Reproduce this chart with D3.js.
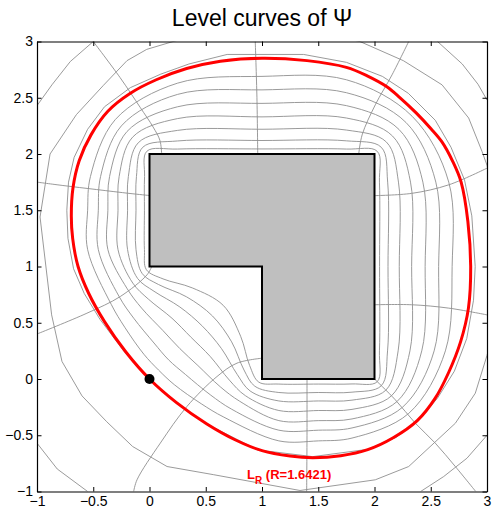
<!DOCTYPE html>
<html>
<head>
<meta charset="utf-8">
<script src="https://cdn.jsdelivr.net/npm/d3@7"></script>
<style>
  html, body { margin: 0; padding: 0; background: #fff; }
  svg { display: block; font-family: "Liberation Sans", Arial, Helvetica, sans-serif; }
</style>
</head>
<body>
<svg id="chart" width="494" height="509"></svg>
<script>
// Polygon (L-shaped domain)
const polygon = [[0,1],[0,2],[2,2],[2,0],[1,0],[1,1]];

// Axis ticks
const tickValues = [-1, -0.5, 0, 0.5, 1, 1.5, 2, 2.5, 3];
const tickLabels = ["\u22121", "\u22120.5", "0", "0.5", "1", "1.5", "2", "2.5", "3"];

// Level curves of |Psi| (closed, innermost first)
const level1 = [[-0.045,1.15],[-0.045,1.5],[-0.044,1.8],[-0.024,2.024],[0.25,2.044],[1.0,2.045],[1.75,2.044],[2.024,2.024],[2.044,1.75],[2.045,1.0],[2.044,0.25],[2.024,-0.024],[1.8,-0.044],[1.5,-0.045],[1.15,-0.045],[0.972,-0.028],[0.89,0.12],[0.81,0.38],[0.655,0.655],[0.38,0.81],[0.12,0.89],[-0.028,0.972]];
const level2 = [[-0.12,1.15],[-0.12,1.5],[-0.116,1.8],[-0.06,2.06],[0.25,2.116],[1.0,2.12],[1.75,2.117],[2.06,2.06],[2.117,1.75],[2.12,1.0],[2.116,0.25],[2.06,-0.06],[1.8,-0.117],[1.5,-0.12],[1.15,-0.12],[0.936,-0.064],[0.84,0.08],[0.73,0.33],[0.56,0.56],[0.33,0.73],[0.08,0.84],[-0.064,0.936]];
const level3 = [[-0.195,1.15],[-0.195,1.5],[-0.188,1.8],[-0.1,2.1],[0.25,2.21],[1.0,2.22],[1.75,2.213],[2.106,2.106],[2.213,1.75],[2.22,1.0],[2.21,0.25],[2.1,-0.1],[1.8,-0.188],[1.5,-0.195],[1.15,-0.195],[0.894,-0.106],[0.78,0.04],[0.64,0.27],[0.47,0.47],[0.27,0.64],[0.04,0.78],[-0.106,0.894]];
const level4 = [[-0.28,1.15],[-0.28,1.5],[-0.27,1.8],[-0.15,2.15],[0.25,2.315],[1.0,2.33],[1.75,2.32],[2.16,2.16],[2.32,1.75],[2.33,1.0],[2.315,0.25],[2.15,-0.15],[1.8,-0.27],[1.5,-0.28],[1.15,-0.28],[0.852,-0.148],[0.71,-0.01],[0.54,0.2],[0.37,0.37],[0.2,0.54],[-0.01,0.71],[-0.148,0.852]];
const level5 = [[-0.37,1.15],[-0.37,1.5],[-0.355,1.8],[-0.2,2.2],[0.25,2.42],[1.0,2.45],[1.75,2.43],[2.218,2.218],[2.43,1.75],[2.45,1.0],[2.42,0.25],[2.2,-0.2],[1.8,-0.355],[1.5,-0.37],[1.15,-0.37],[0.802,-0.198],[0.63,-0.07],[0.43,0.12],[0.27,0.27],[0.12,0.43],[-0.07,0.63],[-0.198,0.802]];
const level6 = [[-0.455,1.15],[-0.455,1.5],[-0.435,1.8],[-0.25,2.25],[0.25,2.53],[1.0,2.57],[1.75,2.545],[2.28,2.28],[2.545,1.75],[2.57,1.0],[2.53,0.25],[2.25,-0.25],[1.8,-0.435],[1.5,-0.455],[1.15,-0.455],[0.731,-0.269],[0.54,-0.14],[0.32,0.04],[0.17,0.17],[0.04,0.32],[-0.14,0.54],[-0.269,0.731]];
const level7 = [[-0.55,1.15],[-0.55,1.5],[-0.525,1.8],[-0.305,2.305],[0.25,2.63],[1.0,2.69],[1.75,2.66],[2.335,2.335],[2.66,1.75],[2.69,1.0],[2.63,0.25],[2.305,-0.305],[1.8,-0.525],[1.5,-0.55],[1.15,-0.55],[0.661,-0.339],[0.46,-0.22],[0.22,-0.05],[0.08,0.08],[-0.05,0.22],[-0.22,0.46],[-0.339,0.661]];

// Coarser outer level curves (drawn as polylines)
const level8 = [[0.0,0.0],[-0.23,0.25],[-0.44,0.53],[-0.58,0.76],[-0.675,0.98],[-0.725,1.25],[-0.735,1.5],[-0.72,1.75],[-0.67,1.97],[-0.55,2.22],[-0.4,2.42],[-0.17,2.59],[0.1,2.71],[0.35,2.8],[0.69,2.885],[1.37,2.885],[1.75,2.815],[2.07,2.69],[2.3,2.54],[2.54,2.3],[2.68,2.06],[2.8,1.77],[2.865,1.45],[2.895,1.0],[2.88,0.7],[2.82,0.36],[2.71,0.07],[2.56,-0.17],[2.39,-0.37],[2.19,-0.52],[1.94,-0.625],[1.45,-0.69],[0.96,-0.63],[0.51,-0.4],[0.24,-0.21]];
const level9 = [[-0.973,1.44],[-0.884,2.0],[-0.65,2.35],[-0.41,2.61],[-0.2,2.83],[-0.025,2.93],[0.21,3.0],[0.6,3.1],[1.4,3.1],[1.87,3.0],[2.256,2.83],[2.6,2.615],[2.837,2.32],[2.956,2.022],[3.0,1.9],[3.1,1.4],[3.1,0.6],[3.0,0.21],[2.896,-0.126],[2.719,-0.393],[2.304,-0.778],[2.007,-0.896],[1.338,-0.991],[0.567,-0.85],[0.156,-0.778],[-0.15,-0.6],[-0.38,-0.38],[-0.6,-0.15],[-0.778,0.156],[-0.87,0.57]];
const level10a = [[-1.0,2.43],[-0.867,2.615],[-0.704,2.822],[-0.5,3.0]];
const level10b = [[2.56,3.0],[2.78,2.8],[2.92,2.62],[3.0,2.48]];
const level10c = [[3.0,-0.5],[2.822,-0.704],[2.615,-0.867],[2.41,-1.0]];
const level10d = [[-1.0,-0.57],[-0.82,-0.8],[-0.55,-1.0]];

// Orthogonal trajectories (rays leaving the polygon)
const ray1 = [[0.108,2.0],[0.093,2.12],[0.032,2.24],[-0.084,2.416],[-0.262,2.68],[-0.5,3.0]];
const ray2 = [[0.0,1.631],[-0.173,1.649],[-0.47,1.684],[-0.77,1.72],[-1.0,1.75]];
const ray3 = [[0.02,1.0],[-0.022,0.926],[-0.26,0.733],[-0.556,0.585],[-1.0,0.4]];
const ray4 = [[1.0,0.185],[0.778,0.141],[0.6,0.022],[0.333,-0.244],[0.096,-0.57],[-0.111,-0.896],[-0.141,-1.0]];
const ray5 = [[1.4,0.0],[1.4,-0.5],[1.397,-1.0]];
const ray6 = [[2.0,0.0],[2.185,-0.185],[2.363,-0.393],[2.54,-0.57],[2.72,-0.78],[2.9,-1.0]];
const ray7 = [[2.0,0.66],[2.33,0.66],[2.66,0.63],[3.0,0.57]];
const ray8 = [[2.0,1.63],[2.33,1.65],[2.66,1.726],[3.0,1.874]];
const ray9 = [[1.86,2.0],[1.89,2.17],[2.007,2.437],[2.156,2.704],[2.304,3.0]];
const ray10 = [[0.962,2.0],[0.955,2.5],[0.94,3.0]];

// The level curve L_R
const levelR = 1.6421;
const curveLR = [[0,0],[-0.21,0.24],[-0.4,0.51],[-0.54,0.76],[-0.635,1.0],[-0.683,1.25],[-0.695,1.45],[-0.68,1.7],[-0.625,1.94],[-0.52,2.17],[-0.37,2.38],[-0.17,2.54],[0.06,2.66],[0.33,2.76],[0.63,2.825],[1.0,2.852],[1.4,2.83],[1.75,2.77],[1.935,2.695],[2.11,2.598],[2.225,2.502],[2.368,2.368],[2.502,2.225],[2.598,2.11],[2.695,1.935],[2.77,1.75],[2.83,1.4],[2.855,1.0],[2.835,0.63],[2.765,0.33],[2.66,0.06],[2.54,-0.17],[2.38,-0.37],[2.17,-0.52],[1.94,-0.628],[1.7,-0.682],[1.45,-0.7],[1.25,-0.685],[1.0,-0.637],[0.76,-0.54],[0.51,-0.4],[0.24,-0.21]];
const marker = [0, 0];
const labelPos = [0.867, -0.885];

const svg = d3.select("#chart");
const x = d3.scaleLinear().domain([-1, 3]).range([37, 487]);
const y = d3.scaleLinear().domain([-1, 3]).range([491.5, 41.5]);

svg.append("defs").append("clipPath").attr("id", "plotClip")
  .append("rect")
  .attr("x", x(-1)).attr("y", y(3))
  .attr("width", x(3) - x(-1)).attr("height", y(-1) - y(3));

const plot = svg.append("g").attr("clip-path", "url(#plotClip)");
const grey = "#8e8e8e";

const smoothClosed = d3.line().x(d => x(d[0])).y(d => y(d[1])).curve(d3.curveCatmullRomClosed.alpha(0.5));
const polyClosed = d3.line().x(d => x(d[0])).y(d => y(d[1])).curve(d3.curveLinearClosed);
const polyOpen = d3.line().x(d => x(d[0])).y(d => y(d[1])).curve(d3.curveLinear);
const smoothOpen = d3.line().x(d => x(d[0])).y(d => y(d[1])).curve(d3.curveCatmullRom.alpha(0.5));

const meshG = plot.append("g").attr("fill", "none").attr("stroke", grey).attr("stroke-width", 0.9);
[level1, level2, level3, level4, level5, level6, level7].forEach(c =>
  meshG.append("path").attr("d", smoothClosed(c)));
[level8, level9].forEach(c => meshG.append("path").attr("d", polyClosed(c)));
[level10a, level10b, level10c, level10d].forEach(c => meshG.append("path").attr("d", polyOpen(c)));
[ray1, ray2, ray3, ray4, ray5, ray6, ray7, ray8, ray9, ray10].forEach(c =>
  meshG.append("path").attr("d", smoothOpen(c)));

// Polygon
plot.append("path")
  .attr("d", polyClosed(polygon))
  .attr("fill", "#bfbfbf")
  .attr("stroke", "#000")
  .attr("stroke-width", 2)
  .attr("stroke-linejoin", "miter");

// L_R in red
plot.append("path")
  .attr("d", smoothClosed(curveLR))
  .attr("fill", "none")
  .attr("stroke", "#ff0000")
  .attr("stroke-width", 3);

// Marker point
plot.append("circle")
  .attr("cx", x(marker[0])).attr("cy", y(marker[1]))
  .attr("r", 5).attr("fill", "#000");

// Label
const lab = svg.append("text")
  .attr("x", x(labelPos[0])).attr("y", y(labelPos[1]))
  .attr("fill", "#ff0000").attr("font-weight", "bold").attr("font-size", 13);
lab.append("tspan").text("L");
lab.append("tspan").attr("font-size", 10).attr("dy", 5).text("R");
lab.append("tspan").attr("dy", -5).text(" (R=" + levelR.toFixed(4) + ")");

// Axes (ticks pointing inward, box on)
const fmt = v => tickLabels[tickValues.indexOf(v)];
const axB = svg.append("g").attr("transform", `translate(0,${y(-1)})`)
  .call(d3.axisBottom(x).tickValues(tickValues).tickFormat(fmt).tickSizeInner(-4.5).tickSizeOuter(0).tickPadding(5));
const axL = svg.append("g").attr("transform", `translate(${x(-1)},0)`)
  .call(d3.axisLeft(y).tickValues(tickValues).tickFormat(fmt).tickSizeInner(-4.5).tickSizeOuter(0).tickPadding(4));
const axT = svg.append("g").attr("transform", `translate(0,${y(3)})`)
  .call(d3.axisTop(x).tickValues(tickValues).tickFormat("").tickSizeInner(-4.5).tickSizeOuter(0));
const axR = svg.append("g").attr("transform", `translate(${x(3)},0)`)
  .call(d3.axisRight(y).tickValues(tickValues).tickFormat("").tickSizeInner(-4.5).tickSizeOuter(0));
[axB, axL, axT, axR].forEach(a => {
  a.selectAll("text").attr("font-size", 14).attr("fill", "#000")
    .attr("font-family", "'Liberation Sans', Arial, sans-serif");
  a.selectAll("line").attr("stroke", "#000");
  a.select(".domain").attr("stroke", "#000").attr("stroke-width", 1.2);
});

// Title
svg.append("text")
  .attr("x", (x(-1) + x(3)) / 2).attr("y", 26)
  .attr("text-anchor", "middle")
  .attr("font-size", 23)
  .attr("fill", "#000")
  .text("Level curves of \u03A8");
</script>
</body>
</html>
